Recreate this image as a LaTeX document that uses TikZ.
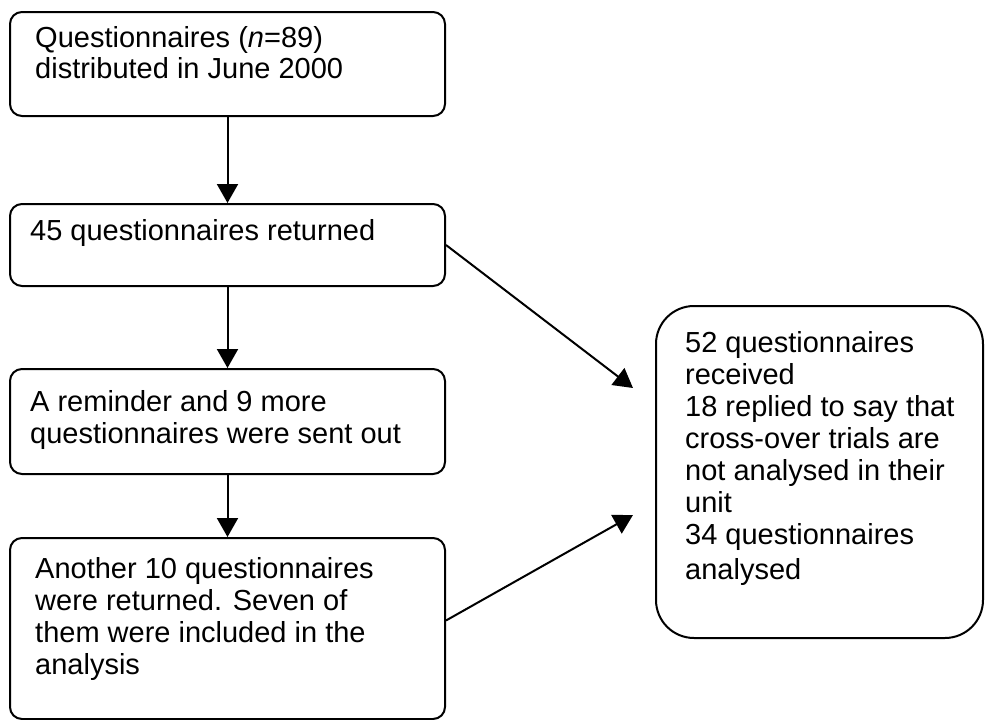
\documentclass[tikz,border=0pt]{standalone}
\usepackage{fontspec}
\setmainfont{Liberation Sans}
\usetikzlibrary{arrows.meta}
\newcommand{\textlines}[1]{\begin{tabular}[t]{@{}l@{}}#1\end{tabular}}
\tikzset{
  box/.style={draw, line width=2pt, rounded corners=12pt, anchor=north west, inner sep=0pt},
  bigbox/.style={draw, line width=2pt, rounded corners=38pt, anchor=north west, inner sep=0pt},
  txt/.style={anchor=base west, inner sep=0pt, font=\fontsize{29}{32}\selectfont},
  arr/.style={line width=2pt, -{Triangle[length=19pt,width=21pt]}}
}
\begin{document}
\begin{tikzpicture}[x=1pt,y=-1pt]
\useasboundingbox (0,0) rectangle (986,720);
\node[box, minimum width=435pt, minimum height=104pt] (b1) at (9,11) {};
\node[box, minimum width=435pt, minimum height=82pt] (b2) at (9,203) {};
\node[box, minimum width=435pt, minimum height=105pt] (b3) at (9,368) {};
\node[box, minimum width=435pt, minimum height=181pt] (b4) at (9,537) {};
\node[bigbox, minimum width=327pt, minimum height=332pt] (b5) at (655,305) {};
\node[txt] (t1) at (35,47) {\textlines{Questionnaires (\emph{n}=89)\\distributed in June 2000}};
\node[txt] (t2) at (30,240) {45 questionnaires returned};
\node[txt] (t3) at (30,411) {\textlines{A reminder and 9 more\\questionnaires were sent out}};
\node[txt] (t4) at (35,578) {\textlines{Another 10 questionnaires\\were returned. Seven of\\them were included in the\\analysis}};
\node[txt] (t5) at (685,352) {\textlines{52 questionnaires\\received\\18 replied to say that\\cross-over trials are\\not analysed in their\\unit\\34 questionnaires\\[3pt]analysed}};
\coordinate (e1) at (633,388);
\coordinate (e2) at (633,515);
\draw[arr] (b1.south) -- (b2.north);
\draw[arr] (b2.south) -- (b3.north);
\draw[arr] (b3.south) -- (b4.north);
\draw[arr] (b2.east) -- (e1);
\draw[arr] ([yshift=8pt]b4.east) -- (e2);
\end{tikzpicture}
\end{document}
